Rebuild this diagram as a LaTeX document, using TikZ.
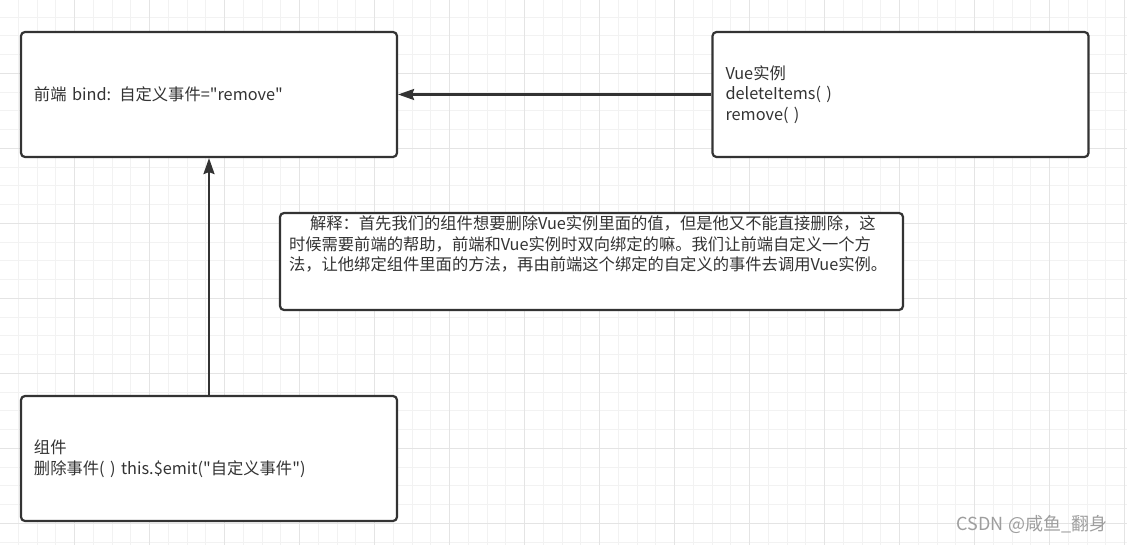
\documentclass[tikz,border=0pt]{standalone}
\usepackage{fontspec}
\setmainfont{Noto Sans CJK SC}[Ligatures=TeXOff]
\usepackage{xcolor}
\usetikzlibrary{arrows.meta,positioning}
\definecolor{inkgray}{HTML}{333333}
\definecolor{gridminor}{HTML}{F2F2F2}
\definecolor{gridmajor}{HTML}{E4E4E4}
\definecolor{markgray}{HTML}{9E9E9E}

\begin{document}
\begin{tikzpicture}[x=1bp,y=-1bp,
  node distance=236.8bp and 313.3bp,
  box/.style={rectangle,draw=inkgray,line width=2.2bp,rounded corners=4bp,fill=white,text=inkgray,
    align=left,text width=350bp,inner xsep=13bp,inner ysep=0pt,minimum height=125bp,
    font=\fontsize{16.3bp}{20.5bp}\selectfont},
  note/.style={rectangle,draw=inkgray,line width=2.2bp,rounded corners=4bp,fill=white,text=inkgray,
    inner xsep=9bp,inner ysep=0pt,font=\fontsize{16.3bp}{20.5bp}\selectfont},
  edge/.style={-{Stealth[length=16bp,width=11bp,inset=2bp]},draw=inkgray,line width=2.2bp}]
\useasboundingbox (0,0) rectangle (1127,545);
\fill[white] (0,0) rectangle (1127,545);
\foreach \gx in {-0.3,18.45,...,1130} \draw[gridminor,line width=1bp] (\gx,0) -- (\gx,545);
\foreach \gy in {-1.7,17.05,...,550} \draw[gridminor,line width=1bp] (0,\gy) -- (1127,\gy);
\foreach \gx in {-0.3,74.7,...,1130} \draw[gridmajor,line width=1bp] (\gx,0) -- (\gx,545);
\foreach \gy in {-1.7,73.3,...,550} \draw[gridmajor,line width=1bp] (0,\gy) -- (1127,\gy);
\node[box] (front) at (209,94.5) {前端 bind: 自定义事件="remove"};
\node[box,right=of front] (vue) {Vue实例\\deleteItems( )\\remove( )};
\node[box,below=of front] (comp) {组件\\删除事件( ) this.\$emit("自定义事件")};
\node[note,below right=53.8bp and -119.2bp of front] (expl) {\parbox[c][97bp][t]{605bp}{\vspace*{3bp}\hspace*{21bp}解释：首先我们的组件想要删除Vue实例里面的值，但是他又不能直接删除，这\\时候需要前端的帮助，前端和Vue实例时双向绑定的嘛。我们让前端自定义一个方\\法，让他绑定组件里面的方法，再由前端这个绑定的自定义的事件去调用Vue实例。}};
\node[text=markgray,font=\fontsize{18bp}{20bp}\selectfont] (mark) at (1032,524) {CSDN @咸鱼\_翻身};
\draw[edge] (vue) -- (front);
\draw[edge] (comp) -- (front);
\end{tikzpicture}
\end{document}
